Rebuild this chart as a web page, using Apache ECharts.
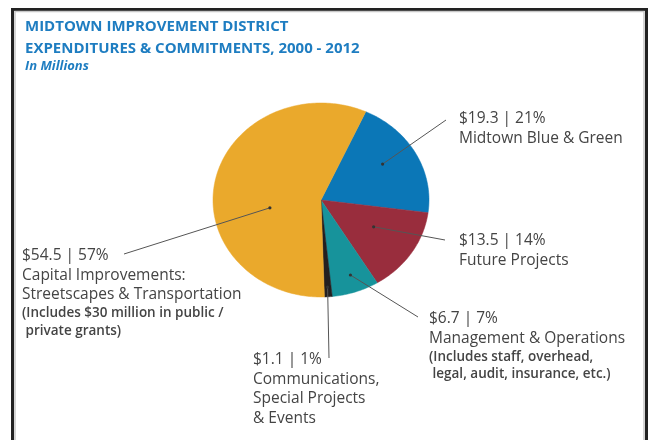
<!DOCTYPE html>
<html>
<head>
<meta charset="utf-8">
<script src="https://cdn.jsdelivr.net/npm/echarts@6/dist/echarts.min.js"></script>
<style>
  html, body { margin: 0; padding: 0; background: #fff; }
  #chart { width: 649px; height: 440px; }
</style>
</head>
<body>
<div id="chart"></div>
<script>
// Spending categories, in drawing order (clockwise from the top)
const categories = [
  'Midtown Blue & Green',
  'Future Projects',
  'Management & Operations',
  'Communications, Special Projects & Events',
  'Capital Improvements: Streetscapes & Transportation'
];
// Amounts in millions of dollars
const amounts = [19.3, 13.5, 6.7, 1.1, 54.5];
// Published share of the total, percent
const shares = [21, 14, 7, 1, 57];
// Label text, broken into display lines
const nameLines = [
  ['Midtown Blue & Green'],
  ['Future Projects'],
  ['Management & Operations'],
  ['Communications,', 'Special Projects', '& Events'],
  ['Capital Improvements:', 'Streetscapes & Transportation']
];
const noteLines = [
  [],
  [],
  ['(Includes staff, overhead,', ' legal, audit, insurance, etc.)'],
  [],
  ['(Includes $30 million in public /', ' private grants)']
];

const sliceColors = ['#0B77B7', '#992D3D', '#17939B', '#231F20', '#EAA92C'];

// Elliptical pie geometry
const PIE = { cx: 321, cy: 200, rx: 108, ry: 97, start: 24.5 };

const total = amounts.reduce((a, b) => a + b, 0);
const bounds = [];
let acc = PIE.start;
amounts.forEach(v => {
  const a0 = acc;
  acc += v / total * 360;
  bounds.push([a0, acc]);
});

// point on the ellipse: angle in degrees clockwise from 12 o'clock, f = radial fraction
function ell(deg, f) {
  const t = deg * Math.PI / 180;
  return [PIE.cx + PIE.rx * f * Math.sin(t), PIE.cy - PIE.ry * f * Math.cos(t)];
}

// Callout layout: where the leader starts inside the slice, where it ends, where text sits
const callouts = [
  { at: 0.445, r: 0.68, end: [446, 120], text: [459, 109] },
  { at: 0.43,  r: 0.56, end: [445, 240], text: [459, 231] },
  { at: 0.47,  r: 0.82, end: [418, 317], text: [429, 309] },
  { at: 0.5,   r: 0.9,  end: [329, 358], text: [253, 350] },
  { at: 0.398, r: 0.48, end: [124, 254], text: [22, 246] }
];

const LABEL_FONT = '"Open Sans", sans-serif';
const TEXT_GREY = '#444';
const rich = {
  v: { fontFamily: LABEL_FONT, fontSize: 15.5, lineHeight: 19.5, color: TEXT_GREY },
  n: { fontFamily: LABEL_FONT, fontSize: 15.5, lineHeight: 19.5, color: TEXT_GREY },
  s: { fontFamily: LABEL_FONT, fontSize: 13.5, fontWeight: 600, lineHeight: 17.5, color: TEXT_GREY }
};

function labelText(i) {
  const first = '{v|$' + amounts[i].toFixed(1) + ' | ' + shares[i] + '%}';
  return [first]
    .concat(nameLines[i].map(s => '{n|' + s + '}'))
    .concat(noteLines[i].map(s => '{s|' + s + '}'))
    .join('\n');
}

const chart = echarts.init(document.getElementById('chart'), null, { renderer: 'canvas' });

chart.setOption({
  animation: false,
  title: {
    left: 25,
    top: 15.5,
    padding: 0,
    itemGap: 0,
    text: 'MIDTOWN IMPROVEMENT DISTRICT\nEXPENDITURES & COMMITMENTS, 2000 - 2012',
    subtext: 'In Millions',
    textStyle: {
      fontFamily: '"Open Sans", sans-serif',
      fontSize: 15,
      fontWeight: 'bold',
      lineHeight: 22,
      color: '#1E7DC1'
    },
    subtextStyle: {
      fontFamily: '"Open Sans", sans-serif',
      fontSize: 13,
      fontWeight: 'bold',
      fontStyle: 'italic',
      lineHeight: 14,
      color: '#1E7DC1'
    }
  },
  graphic: [
    {
      type: 'rect',
      shape: { x: 12.5, y: 9.5, width: 634, height: 460 },
      style: { fill: 'none', stroke: '#222', lineWidth: 3 },
      silent: true
    },
    {
      type: 'rect',
      shape: { x: 15, y: 11.5, width: 629, height: 460 },
      style: { fill: 'none', stroke: '#c8c8c8', lineWidth: 1.5 },
      silent: true
    }
  ],
  series: [
    {
      type: 'custom',
      name: 'slices',
      coordinateSystem: 'none',
      data: amounts.map((v, i) => ({ name: categories[i], value: [i, v] })),
      renderItem(params) {
        const i = params.dataIndex;
        const [a0, a1] = bounds[i];
        const pts = [[PIE.cx, PIE.cy]];
        const n = Math.max(3, Math.ceil(a1 - a0));
        for (let k = 0; k <= n; k++) pts.push(ell(a0 + (a1 - a0) * k / n, 1));
        return {
          type: 'polygon',
          shape: { points: pts },
          style: { fill: sliceColors[i], stroke: sliceColors[i], lineWidth: 0.5 }
        };
      }
    },
    {
      type: 'custom',
      name: 'callouts',
      coordinateSystem: 'none',
      z: 3,
      data: amounts.map((v, i) => ({ name: categories[i], value: [i, v] })),
      renderItem(params) {
        const i = params.dataIndex;
        const c = callouts[i];
        const [a0, a1] = bounds[i];
        const p = ell(a0 + (a1 - a0) * c.at, c.r);
        return {
          type: 'group',
          children: [
            {
              type: 'line',
              shape: { x1: p[0], y1: p[1], x2: c.end[0], y2: c.end[1] },
              style: { stroke: '#555', lineWidth: 1 }
            },
            {
              type: 'circle',
              shape: { cx: p[0], cy: p[1], r: 1.6 },
              style: { fill: '#333' }
            },
            {
              type: 'text',
              x: c.text[0],
              y: c.text[1],
              style: {
                text: labelText(i),
                rich: rich,
                fill: TEXT_GREY,
                align: 'left',
                verticalAlign: 'top'
              }
            }
          ]
        };
      }
    }
  ]
});
</script>
</body>
</html>
